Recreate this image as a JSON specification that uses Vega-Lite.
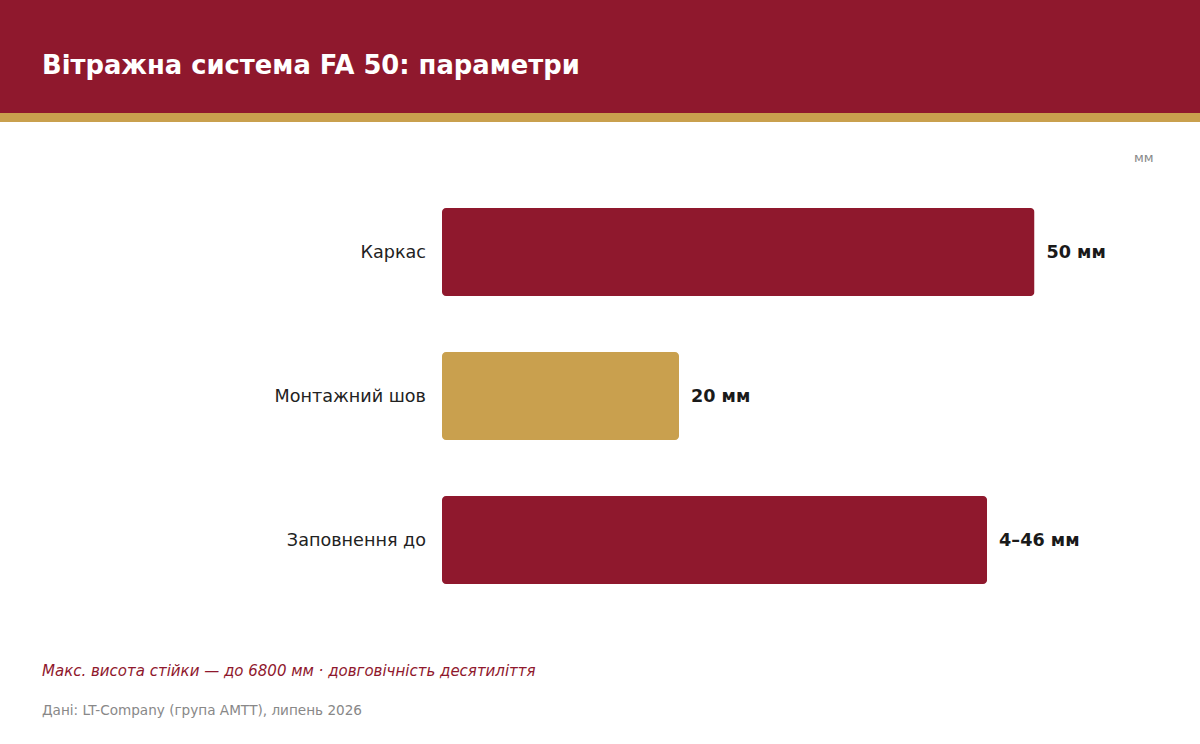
{
  "$schema": "https://vega.github.io/schema/vega-lite/v6.json",
  "padding": 0,
  "background": "#ffffff",
  "config": {"view": {"stroke": null}, "font": "DejaVu Sans"},
  "title": {
    "text": "Макс. висота стійки — до 6800 мм · довговічність десятиліття",
    "subtitle": "Дані: LT-Company (група АМТТ), липень 2026",
    "orient": "bottom",
    "anchor": "start",
    "frame": "bounds",
    "dx": 42,
    "offset": 51.5,
    "font": "DejaVu Sans",
    "fontSize": 15,
    "fontStyle": "italic",
    "fontWeight": "normal",
    "color": "#8f182d",
    "subtitleFont": "DejaVu Sans",
    "subtitleFontSize": 13.6,
    "subtitleFontStyle": "normal",
    "subtitleColor": "#888888",
    "subtitlePadding": 25
  },
  "columns": 1,
  "align": "none",
  "spacing": 0,
  "concat": [
    {
      "width": 1200,
      "height": 113,
      "view": {"fill": "#8f182d", "stroke": null},
      "title": {
        "text": "Вітражна система FA 50: параметри",
        "orient": "top",
        "anchor": "start",
        "frame": "group",
        "offset": -100,
        "dx": 42,
        "baseline": "alphabetic",
        "font": "DejaVu Sans",
        "fontSize": 25.8,
        "fontWeight": "bold",
        "color": "#ffffff"
      },
      "data": {"values": []},
      "mark": "text",
      "encoding": {}
    },
    {
      "width": 1200,
      "height": 9,
      "view": {"fill": "#c9a04e", "stroke": null},
      "data": {"values": []},
      "mark": "text",
      "encoding": {}
    },
    {
      "width": 1200,
      "height": 29,
      "data": {"values": []},
      "mark": "text",
      "encoding": {}
    },
    {
      "width": 1200,
      "height": 432,
      "data": {
        "values": [
          {"param": "Каркас", "value": 50, "label": "50 мм", "group": "frame"},
          {"param": "Монтажний шов", "value": 20, "label": "20 мм", "group": "joint"},
          {"param": "Заповнення до", "value": 46, "label": "4–46 мм", "group": "frame"}
        ]
      },
      "encoding": {
        "y": {
          "field": "param",
          "type": "nominal",
          "sort": null,
          "scale": {"paddingInner": 0.389, "paddingOuter": 0.1945},
          "axis": null
        }
      },
      "layer": [
        {
          "mark": {"type": "bar", "cornerRadius": 4},
          "encoding": {
            "x": {
              "field": "value",
              "type": "quantitative",
              "scale": {"domain": [0, 60], "nice": false, "range": [442, 1153]},
              "axis": {
                "orient": "top",
                "title": "мм",
                "labels": false,
                "ticks": false,
                "domain": false,
                "grid": false,
                "titleAnchor": "end",
                "titleAlign": "right",
                "titleFont": "DejaVu Sans",
                "titleFontSize": 13,
                "titleFontWeight": "normal",
                "titleColor": "#888888",
                "titlePadding": 15.5
              }
            },
            "color": {
              "field": "group",
              "type": "nominal",
              "scale": {"domain": ["frame", "joint"], "range": ["#8f182d", "#c9a04e"]},
              "legend": null
            }
          }
        },
        {
          "mark": {
            "type": "text",
            "align": "left",
            "baseline": "middle",
            "dx": 12,
            "dy": 1,
            "font": "DejaVu Sans",
            "fontSize": 17.6,
            "fontWeight": "bold",
            "color": "#1a1a1a"
          },
          "encoding": {
            "x": {"field": "value", "type": "quantitative"},
            "text": {"field": "label"}
          }
        },
        {
          "mark": {
            "type": "text",
            "align": "right",
            "baseline": "middle",
            "dx": -16,
            "dy": 1,
            "font": "DejaVu Sans",
            "fontSize": 17.6,
            "color": "#222222"
          },
          "encoding": {
            "x": {"datum": 0, "type": "quantitative"},
            "text": {"field": "param"}
          }
        }
      ]
    }
  ]
}
